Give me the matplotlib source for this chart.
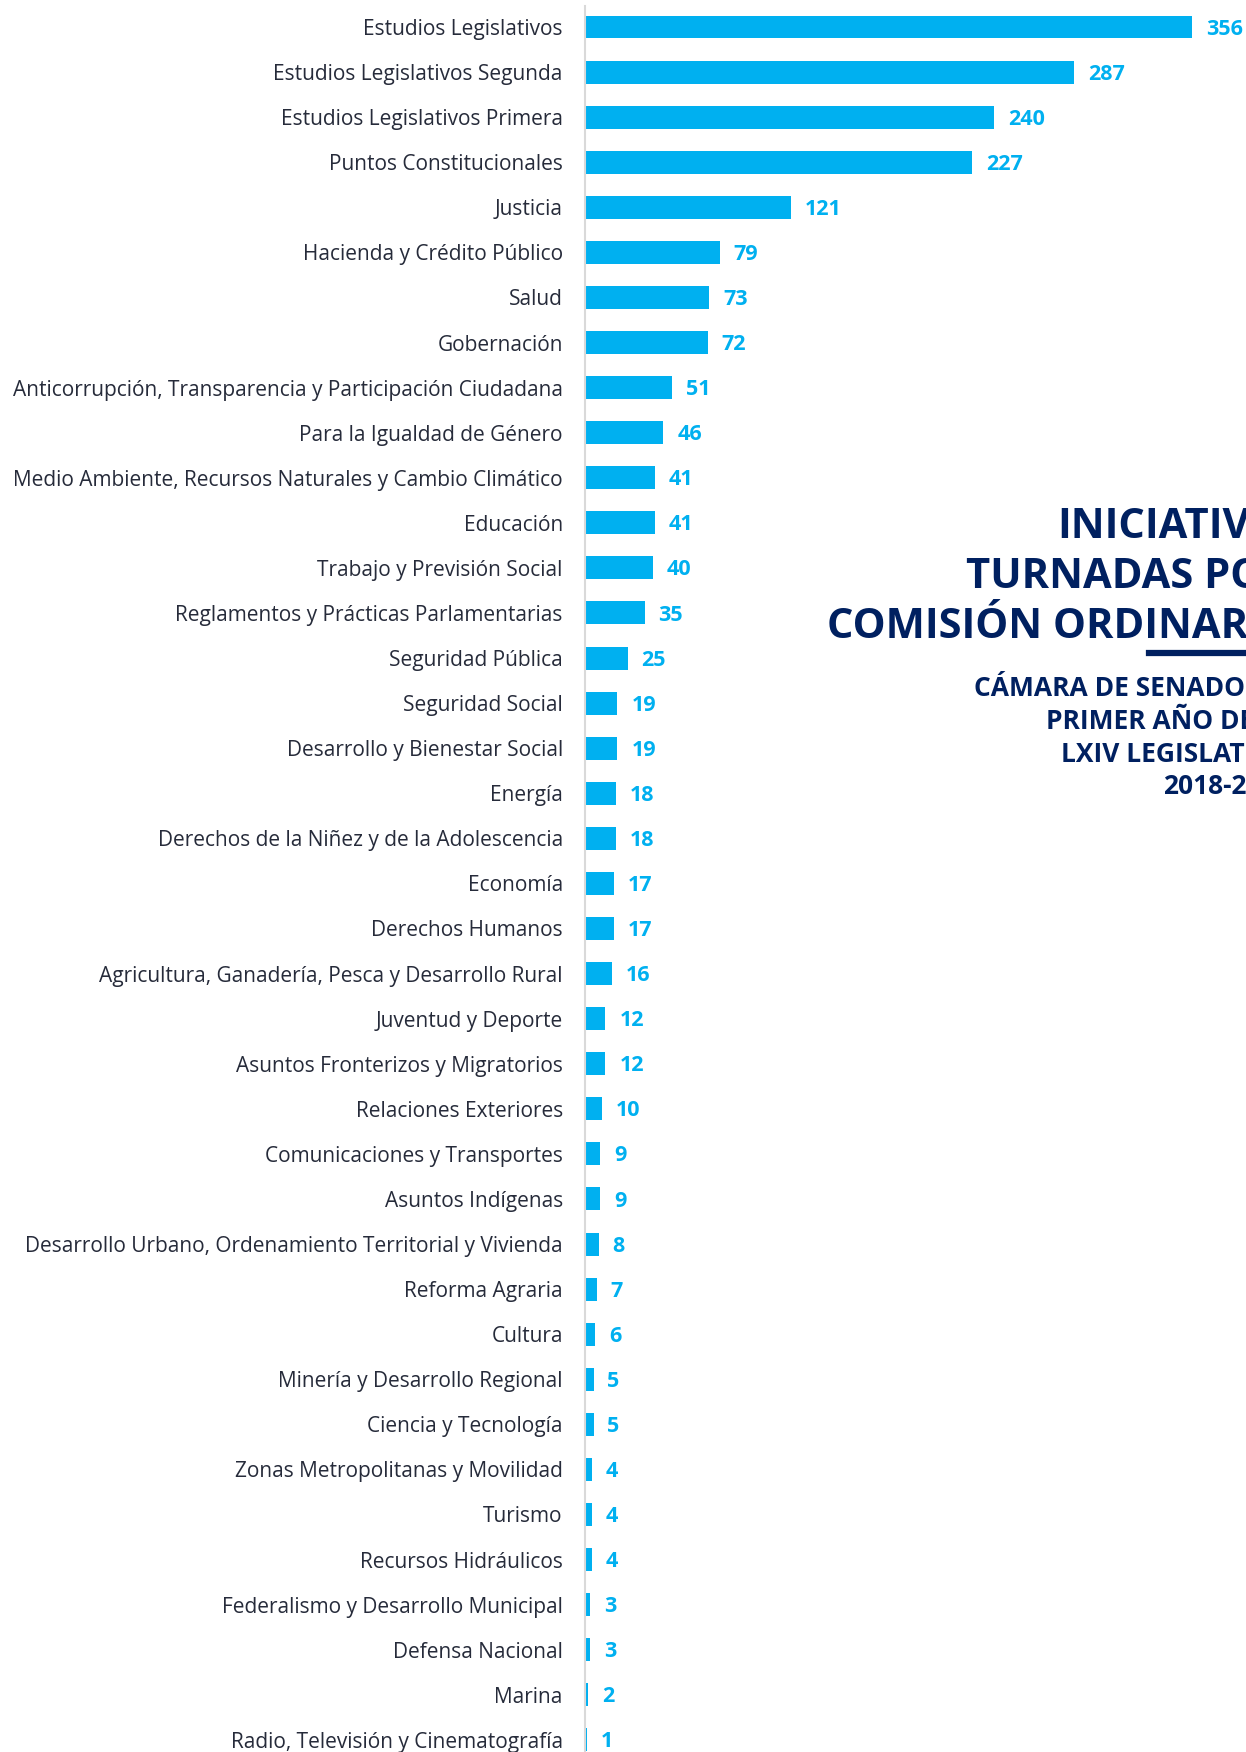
import matplotlib
matplotlib.use('Agg')
import matplotlib.pyplot as plt
import numpy as np

### Data
comisiones = [
    'Estudios Legislativos',
    'Estudios Legislativos Segunda',
    'Estudios Legislativos Primera',
    'Puntos Constitucionales',
    'Justicia',
    'Hacienda y Crédito Público',
    'Salud',
    'Gobernación',
    'Anticorrupción, Transparencia y Participación Ciudadana',
    'Para la Igualdad de Género',
    'Medio Ambiente, Recursos Naturales y Cambio Climático',
    'Educación',
    'Trabajo y Previsión Social',
    'Reglamentos y Prácticas Parlamentarias',
    'Seguridad Pública',
    'Seguridad Social',
    'Desarrollo y Bienestar Social',
    'Energía',
    'Derechos de la Niñez y de la Adolescencia',
    'Economía',
    'Derechos Humanos',
    'Agricultura, Ganadería, Pesca y Desarrollo Rural',
    'Juventud y Deporte',
    'Asuntos Fronterizos y Migratorios',
    'Relaciones Exteriores',
    'Comunicaciones y Transportes',
    'Asuntos Indígenas',
    'Desarrollo Urbano, Ordenamiento Territorial y Vivienda',
    'Reforma Agraria',
    'Cultura',
    'Minería y Desarrollo Regional',
    'Ciencia y Tecnología',
    'Zonas Metropolitanas y Movilidad',
    'Turismo',
    'Recursos Hidráulicos',
    'Federalismo y Desarrollo Municipal',
    'Defensa Nacional',
    'Marina',
    'Radio, Televisión y Cinematografía',
]
iniciativas = [356, 287, 240, 227, 121, 79, 73, 72, 51, 46, 41, 41, 40, 35, 25,
               19, 19, 18, 18, 17, 17, 16, 12, 12, 10, 9, 9, 8, 7, 6, 5, 5, 4,
               4, 4, 3, 3, 2, 1]

titulo = ['INICIATIVAS', 'TURNADAS POR', 'COMISIÓN ORDINARIA']
subtitulo = ['CÁMARA DE SENADORES', 'PRIMER AÑO DE', 'LXIV LEGISLATURA', '2018-2019']

### Style
azul = '#00b0f0'
marino = '#002060'
texto = '#262b3a'
plt.rcParams['font.family'] = ['Open Sans', 'DejaVu Sans']

### Graph
W, H = 1246, 1752
fig = plt.figure(figsize=(W / 100, H / 100), dpi=100, facecolor='white')
ax = fig.add_axes([585 / W, 0, 1 - 585 / W, (H - 6) / H])

y = np.arange(len(comisiones))
ax.barh(y, iniciativas, height=0.51, color=azul)
ax.set_xlim(0, 387.7)
ax.set_ylim(len(comisiones) - 1 + 0.27, -0.466)

ax.set_yticks(y)
ax.set_yticklabels(comisiones, fontsize=15, color=texto)
ax.tick_params(axis='y', length=0, pad=16)
ax.set_xticks([])
for s in ['top', 'right', 'bottom']:
    ax.spines[s].set_visible(False)
ax.spines['left'].set_color('#d9d9d9')
ax.spines['left'].set_linewidth(1.5)

# value labels
for yi, v in zip(y, iniciativas):
    ax.annotate(str(v), (v, yi), xytext=(10, -1.5), textcoords='offset points',
                ha='left', va='center', fontsize=15.5, fontweight='bold',
                color=azul, annotation_clip=False)

# title block (right aligned, runs past the right edge like the original)
tit_x = [1300, 1291, 1291]
for i, t in enumerate(titulo):
    fig.text(tit_x[i] / W, 1 - (527 + 50 * i) / H, t, ha='right', va='center',
             fontsize=30, fontweight='bold', color=marino)
fig.add_artist(plt.Line2D([1149 / W, 1.0], [1 - 653 / H, 1 - 653 / H],
                          color=marino, linewidth=4.5))
sub_x = [1291, 1254, 1300, 1292]
for i, t in enumerate(subtitulo):
    fig.text(sub_x[i] / W, 1 - (689 + 32.5 * i) / H, t, ha='right', va='center',
             fontsize=19, fontweight='bold', color=marino)

fig.savefig('out.png', dpi=100, facecolor='white')
